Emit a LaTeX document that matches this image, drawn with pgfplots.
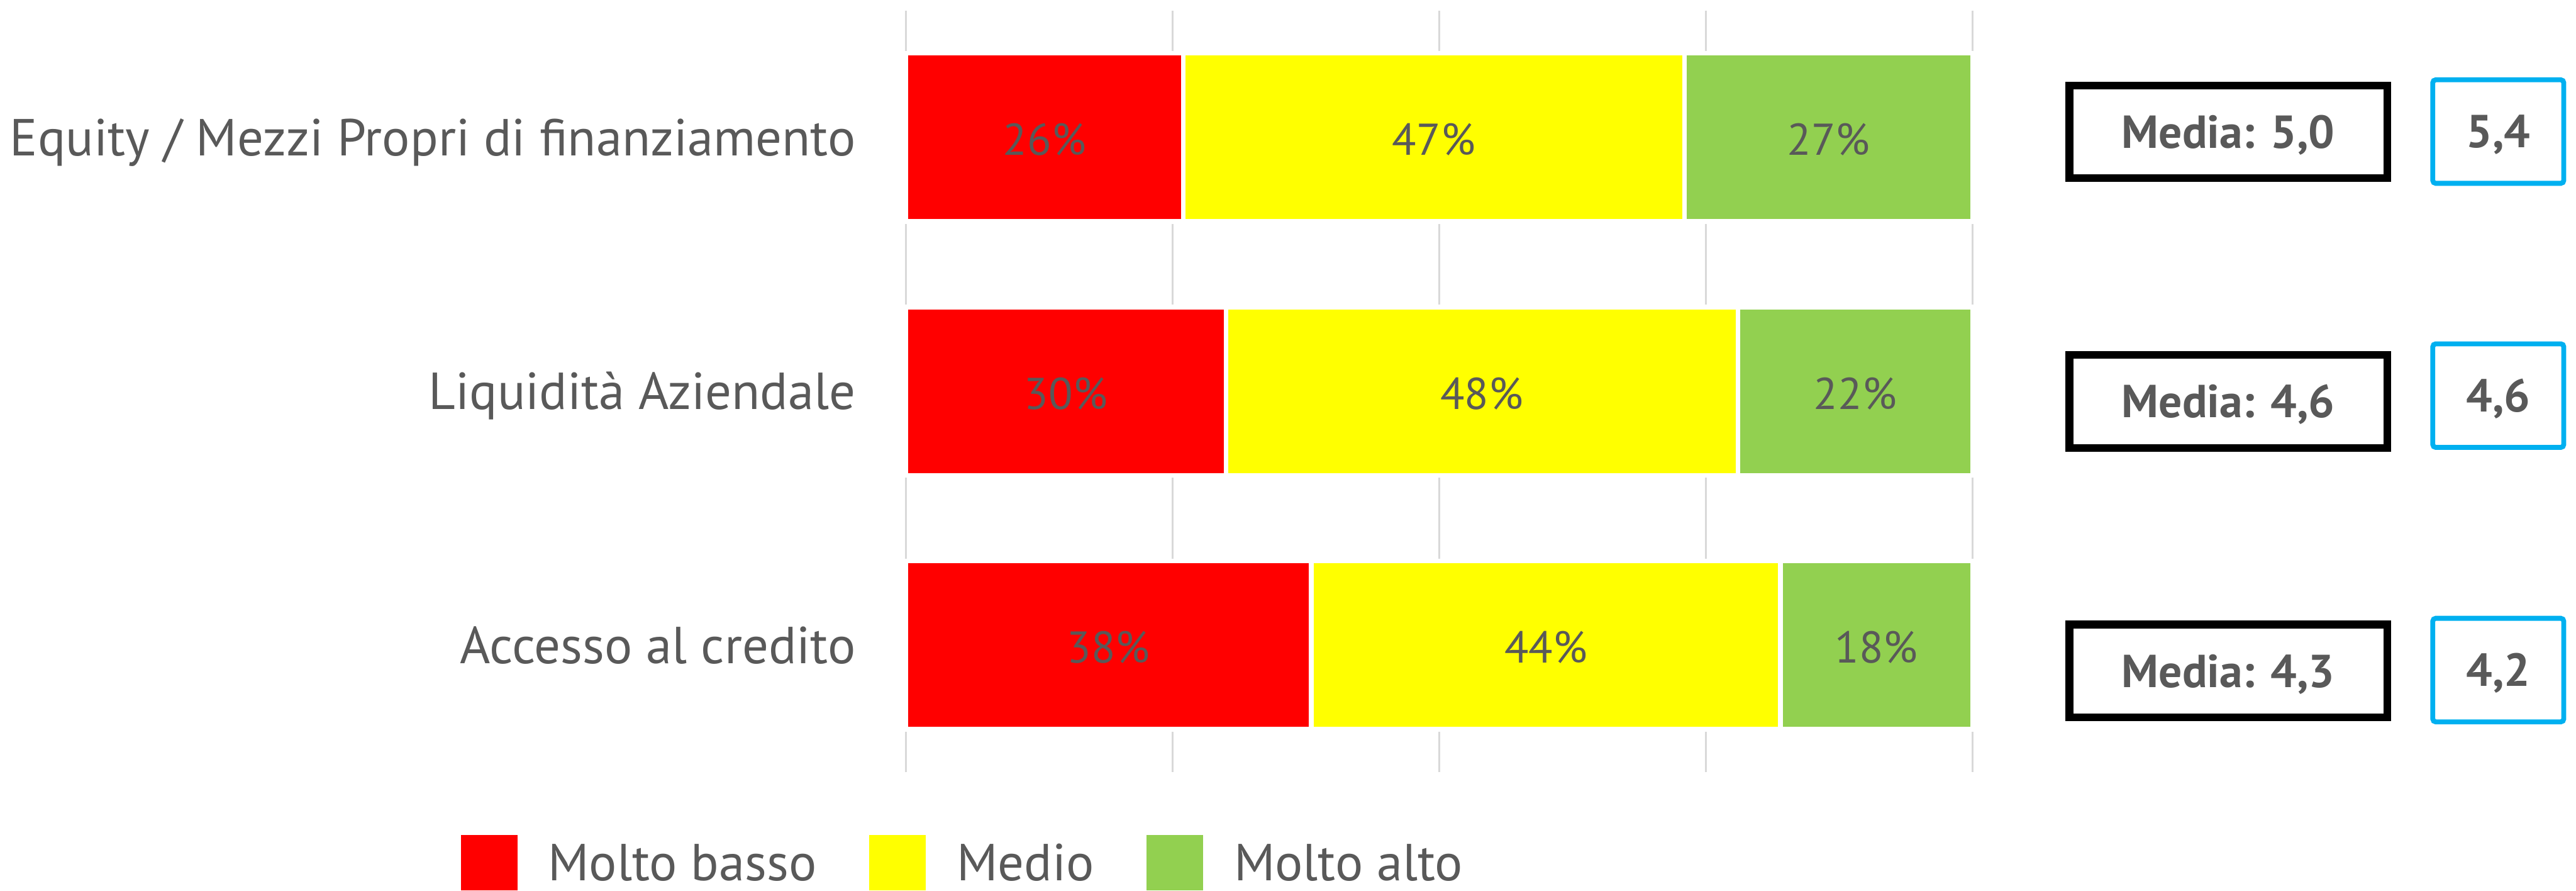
\documentclass[border=0pt]{standalone}
\usepackage{fontspec}
\setmainfont{PT Sans}
\usepackage{pgfplots}
\pgfplotsset{compat=1.18}
\definecolor{txt}{HTML}{595959}
\definecolor{cRed}{HTML}{FF0000}
\definecolor{cYel}{HTML}{FFFF00}
\definecolor{cGrn}{HTML}{92D050}
\definecolor{cBlue}{HTML}{00B0F0}
\definecolor{cGrid}{HTML}{D9D9D9}
\pgfplotsset{base/.style={
  at={(313.4pt,41pt)}, anchor=south west, scale only axis,
  width=369pt, height=263.4pt,
  xmin=0, xmax=100, ymin=-0.5, ymax=2.5, y dir=reverse, clip=false}}
\begin{document}
\begin{tikzpicture}
\path (0,0) rectangle (891.2pt,308pt);
\begin{axis}[base, xbar stacked, bar width=58.2pt,
  xtick={0,25,50,75,100}, xticklabels={}, xmajorgrids,
  major grid style={cGrid, line width=0.5pt},
  ytick={0,1,2},
  yticklabels={Equity / Mezzi Propri di finanziamento, Liquidità Aziendale, Accesso al credito},
  major tick length=0pt, axis line style={draw=none},
  yticklabel style={font=\fontsize{18}{20}\selectfont, text=txt, anchor=base east,
     inner sep=0pt, xshift=-17.2pt, yshift=-6.3pt},
  legend columns=3,
  legend image code/.code={\path[#1,draw=none] (0pt,-8.9pt) rectangle (19.6pt,10.1pt);},
  legend style={at={(-0.41734,-0.08276)}, anchor=north west, draw=none, fill=none,
     inner sep=0pt, outer sep=0pt, font=\fontsize{18}{20}\selectfont, text=txt,
     nodes={inner sep=0pt}, row sep=0pt,
     /tikz/every odd column/.append style={column sep=10.6pt},
     /tikz/every even column/.append style={column sep=18.2pt}},
  ]
\addplot[fill=cRed, draw=white, line width=1.6pt] coordinates {(26,0) (30,1) (38,2)};
\addlegendentry{Molto basso}
\addplot[fill=cYel, draw=white, line width=1.6pt] coordinates {(47,0) (48,1) (44,2)};
\addlegendentry{Medio}
\addplot[fill=cGrn, draw=white, line width=1.6pt] coordinates {(27,0) (22,1) (18,2)};
\addlegendentry{Molto alto}
\end{axis}
\begin{axis}[base, hide axis, point meta=explicit symbolic,
  nodes near coords={\pgfplotspointmeta\%},
  nodes near coords style={font=\fontsize{15.4}{17}\selectfont, text=txt, anchor=base,
     inner sep=0pt, yshift=-6.2pt}]
\addplot[draw=none, mark=none] coordinates {
 (13,0)[26] (49.5,0)[47] (86.5,0)[27]
 (15,1)[30] (54,1)[48] (89,1)[22]
 (19,2)[38] (60,2)[44] (91,2)[18]};
\end{axis}
\tikzset{mbox/.style={draw=black, line width=2.66pt, minimum width=109.9pt, minimum height=32.1pt,
   inner sep=0pt, text height=11.2pt, text depth=0pt, text=txt, font=\bfseries\fontsize{16}{18}\selectfont},
  vbox/.style={draw=cBlue, line width=1.7pt, rounded corners=1pt, minimum width=45.3pt, minimum height=35.8pt,
   inner sep=0pt, text height=11.2pt, text depth=0pt, text=txt, font=\bfseries\fontsize{16}{18}\selectfont}}
\node[mbox] at (770.9pt,262.4pt) {Media: 5,0};
\node[mbox] at (770.9pt,169.2pt) {Media: 4,6};
\node[mbox] at (770.9pt,76.0pt) {Media: 4,3};
\node[vbox] at (864.3pt,262.5pt) {5,4};
\node[vbox] at (864.3pt,171.2pt) {4,6};
\node[vbox] at (864.3pt,76.3pt) {4,2};
\end{tikzpicture}
\end{document}
